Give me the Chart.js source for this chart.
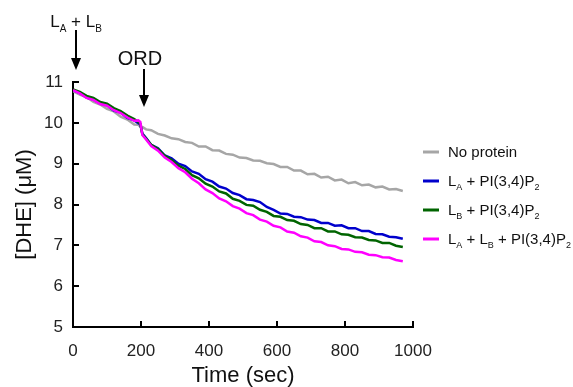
<!DOCTYPE html>
<html><head><meta charset="utf-8">
<script src="https://cdn.jsdelivr.net/npm/chart.js@4/dist/chart.umd.min.js"></script>
<style>html,body{margin:0;padding:0;background:#fff;}#wrap{position:relative;width:573px;height:387px;}</style>
</head><body><div id="wrap"><canvas id="c" width="573" height="387" style="width:573px;height:387px"></canvas></div>
<script>
// ---- data (time in sec, [DHE] in µM) ----
const times = [0,20,40,60,80,100,120,140,160,180,192,198,204,215,230,250,270,290,310,330,350,370,390,410,430,450,470,490,510,530,550,570,590,610,630,650,670,690,710,730,750,770,790,810,830,850,870,890,910,930,950,970];
const noProtein = [10.78,10.69,10.63,10.51,10.45,10.34,10.28,10.15,10.08,9.96,9.95,9.91,9.90,9.84,9.82,9.73,9.69,9.62,9.60,9.53,9.51,9.42,9.42,9.33,9.32,9.24,9.22,9.15,9.14,9.08,9.07,9.01,8.99,8.92,8.92,8.83,8.83,8.74,8.75,8.66,8.68,8.59,8.61,8.52,8.55,8.47,8.49,8.42,8.44,8.37,8.38,8.33];
const laPIP2 = [10.80,10.73,10.62,10.57,10.47,10.43,10.30,10.25,10.12,10.06,9.99,9.96,9.74,9.63,9.46,9.38,9.20,9.13,9.00,8.94,8.81,8.75,8.62,8.56,8.44,8.39,8.28,8.23,8.13,8.11,8.06,7.94,7.87,7.78,7.77,7.70,7.69,7.63,7.62,7.55,7.55,7.48,7.49,7.42,7.42,7.35,7.35,7.28,7.27,7.21,7.20,7.16];
const lbPIP2 = [10.82,10.76,10.66,10.61,10.51,10.47,10.36,10.29,10.18,10.09,10.02,9.98,9.72,9.61,9.46,9.36,9.19,9.09,8.95,8.87,8.72,8.64,8.51,8.44,8.32,8.27,8.14,8.09,7.99,7.97,7.87,7.82,7.72,7.70,7.62,7.60,7.52,7.50,7.42,7.42,7.34,7.34,7.27,7.26,7.20,7.19,7.13,7.12,7.06,7.06,6.99,6.96];
const lalbPIP2 = [10.80,10.72,10.61,10.56,10.46,10.42,10.31,10.24,10.13,10.05,10.06,10.02,9.70,9.59,9.43,9.32,9.15,9.04,8.89,8.79,8.63,8.52,8.37,8.28,8.15,8.08,7.96,7.90,7.79,7.74,7.63,7.58,7.48,7.44,7.34,7.31,7.22,7.19,7.10,7.08,7.00,6.98,6.91,6.90,6.84,6.83,6.77,6.76,6.71,6.70,6.64,6.61];
const xTicks = [0,200,400,600,800,1000];
const yTicks = [5,6,7,8,9,10,11];
const addTimes = [0,200];        // arrows: L_A + L_B, ORD

const FONT = "'Liberation Sans', Arial, Helvetica, sans-serif";
const mk = (vals) => times.map((t,i)=>({x:t,y:vals[i]}));

// legend entries: segments [text, isSub]
const legendItems = [
  {color:'#a6a6a6', parts:[['No protein',0]]},
  {color:'#0000cc', parts:[['L',0],['A',1],[' + PI(3,4)P',0],['2',1]]},
  {color:'#006400', parts:[['L',0],['B',1],[' + PI(3,4)P',0],['2',1]]},
  {color:'#ff00ff', parts:[['L',0],['A',1],[' + L',0],['B',1],[' + PI(3,4)P',0],['2',1]]}
];

function drawParts(ctx, parts, x, y, size, subSize, subDy, align){
  let w = 0;
  parts.forEach(p=>{ctx.font = (p[1]?subSize:size)+'px '+FONT; w += ctx.measureText(p[0]).width;});
  let cx = align==='center' ? x - w/2 : x;
  ctx.textAlign='left'; ctx.textBaseline='alphabetic';
  parts.forEach(p=>{
    ctx.font = (p[1]?subSize:size)+'px '+FONT;
    ctx.fillText(p[0], cx, y + (p[1]?subDy:0));
    cx += ctx.measureText(p[0]).width;
  });
}
function arrow(ctx, x, y0, y1){
  ctx.save(); ctx.strokeStyle='#000'; ctx.fillStyle='#000'; ctx.lineWidth=2;
  ctx.beginPath(); ctx.moveTo(x,y0); ctx.lineTo(x,y1-10); ctx.stroke();
  ctx.beginPath(); ctx.moveTo(x-5,y1-12); ctx.lineTo(x+5,y1-12); ctx.lineTo(x,y1); ctx.closePath(); ctx.fill();
  ctx.restore();
}

const extras = {
  id:'extras',
  afterDraw(chart){
    const ctx = chart.ctx, xs = chart.scales.x, ys = chart.scales.y, ca = chart.chartArea;
    ctx.save();
    // inward tick marks
    ctx.strokeStyle='#000'; ctx.lineWidth=2;
    xTicks.forEach(v=>{const px=Math.round(xs.getPixelForValue(v)); if(v===0) return; ctx.beginPath(); ctx.moveTo(px,ca.bottom); ctx.lineTo(px,ca.bottom-6); ctx.stroke();});
    yTicks.forEach(v=>{const py=Math.round(ys.getPixelForValue(v)); if(v===5) return; ctx.beginPath(); ctx.moveTo(ca.left,py); ctx.lineTo(ca.left+6,py); ctx.stroke();});
    // legend
    legendItems.forEach((it,i)=>{
      const y = 152 + i*29;
      ctx.strokeStyle=it.color; ctx.lineWidth=3;
      ctx.beginPath(); ctx.moveTo(423,y); ctx.lineTo(439,y); ctx.stroke();
      ctx.fillStyle='#111';
      drawParts(ctx, it.parts, 448, y+5, 15, 9, 4, 'left');
    });
    // annotations
    ctx.fillStyle='#111';
    const ax = xs.getPixelForValue(addTimes[0]) + 3;
    drawParts(ctx, [['L',0],['A',1],[' + L',0],['B',1]], ax, 27, 17, 10, 5, 'center');
    arrow(ctx, ax, 30, 70);
    const ox = xs.getPixelForValue(addTimes[1]) + 3;
    ctx.font = '20px '+FONT; ctx.textAlign='center'; ctx.fillText('ORD', ox-4, 65);
    arrow(ctx, ox, 69, 107);
    ctx.restore();
  }
};

new Chart(document.getElementById('c'), {
  type:'line',
  data:{datasets:[
    {label:'No protein', data:mk(noProtein), borderColor:'#a6a6a6', order:3},
    {label:'LA + PI(3,4)P2', data:mk(laPIP2), borderColor:'#0000cc', order:2},
    {label:'LB + PI(3,4)P2', data:mk(lbPIP2), borderColor:'#006400', order:1},
    {label:'LA + LB + PI(3,4)P2', data:mk(lalbPIP2), borderColor:'#ff00ff', order:0}
  ]},
  options:{
    responsive:false, animation:false, devicePixelRatio:1,
    layout:{padding:{top:82,right:160,left:0,bottom:0}},
    elements:{line:{borderWidth:2.5,tension:0}, point:{radius:0}},
    plugins:{legend:{display:false}, tooltip:{enabled:false}},
    scales:{
      x:{type:'linear', min:0, max:1000,
        afterFit(s){s.height=60;},
        afterBuildTicks(s){s.ticks = xTicks.map(v=>({value:v}));},
        grid:{display:false, drawTicks:false},
        border:{display:true,color:'#000',width:2},
        ticks:{font:{family:FONT,size:17},color:'#222',padding:14, maxRotation:0, callback:(v)=>String(v)},
        title:{display:true,text:'Time (sec)',font:{family:FONT,size:22,lineHeight:1},color:'#111',padding:{top:0,bottom:0}}
      },
      y:{type:'linear', min:5, max:11,
        afterFit(s){s.width=73;},
        afterBuildTicks(s){s.ticks = yTicks.map(v=>({value:v}));},
        grid:{display:false, drawTicks:false},
        border:{display:true,color:'#000',width:2},
        ticks:{font:{family:FONT,size:17},color:'#222',padding:10, callback:(v)=>String(v)},
        title:{display:true,text:'[DHE] (μM)',font:{family:FONT,size:22,lineHeight:1},color:'#111',padding:{top:14,bottom:0}}
      }
    }
  },
  plugins:[extras]
});
</script></body></html>
